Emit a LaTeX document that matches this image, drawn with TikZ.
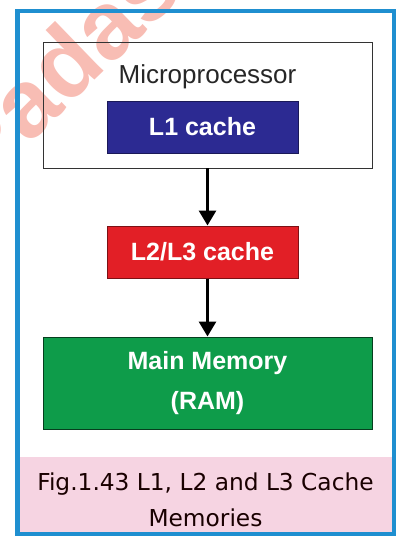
\documentclass[tikz,border=0pt]{standalone}
\usepackage{fontspec}
\setmainfont{Liberation Sans}
\newfontfamily\capfont{DejaVu Sans}
\usetikzlibrary{arrows.meta}
\usetikzlibrary{positioning}
\definecolor{frameblue}{HTML}{1F8FD0}
\definecolor{lonecol}{HTML}{2C2A92}
\definecolor{ltwocol}{HTML}{E21F26}
\definecolor{ramcol}{HTML}{0E9C4A}
\definecolor{cappink}{HTML}{F6D4E2}
\definecolor{wmpink}{HTML}{F8BDB4}

\begin{document}
\begin{tikzpicture}[x=1pt,y=-1pt,>={Triangle[width=17pt,length=15pt]},
    box node/.style={draw,inner sep=0pt},
    cache node/.style={draw,line width=1pt,inner sep=0pt,text=white,font=\fontsize{25}{40}\selectfont\bfseries,align=center}]
   \useasboundingbox (0,0) rectangle (397,536);
   \begin{scope}
     \clip (0,0) rectangle (397,536);
     %\node[rotate=41] at (55,65) {Padasalai};
     \node[rotate=44,anchor=base west,text=wmpink,font=\fontsize{96}{96}\selectfont\bfseries] (wm) at (-20,192) {Padasalai};
   \end{scope}
   \fill[cappink] (20,457) rectangle (391.5,532);
   \node[box node,draw=black!80,line width=0.8pt,minimum width=329pt,minimum height=126pt] (micro) at (207.5,105) {};
   \node[font=\fontsize{26}{30}\selectfont,text=black!85] (mtext) at (207.5,77) {Microprocessor};
   \node[cache node,fill=lonecol,draw=lonecol!60!black,minimum width=191pt,minimum height=52pt] (l1) at (202.5,127) {L1 cache};
   \node[cache node,fill=ltwocol,draw=ltwocol!55!black,minimum width=191pt,minimum height=52pt] (l2) at (202.5,252) {L2/L3 cache};
   \node[cache node,fill=ramcol,draw=ramcol!40!black,minimum width=329pt,minimum height=92pt] (ram) at (207.5,383) {Main Memory\\(RAM)};
   \draw[->,line width=3pt] (micro.south) -- (micro.south |- l2.north);
   \draw[->,line width=3pt] (micro.south |- l2.south) -- (ram.north);
   \node[font=\capfont\fontsize{23.3}{36}\selectfont,text=black!90!red,align=center] (cap) at (205.5,500) {Fig.1.43 L1, L2 and L3 Cache\\Memories};
   \draw[frameblue,line width=4.5pt] (17.5,11) rectangle (394,534);
\end{tikzpicture}
\end{document}
